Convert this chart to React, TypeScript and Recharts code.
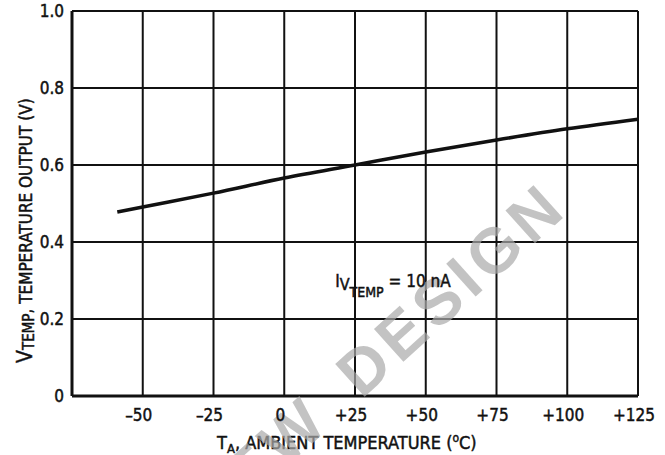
import { CartesianGrid, Line, LineChart, ReferenceDot, XAxis, YAxis } from 'recharts';

const temps = [-59, -50, -25, 0, 25, 50, 75, 100, 125];
const vtemp = [0.478, 0.491, 0.527, 0.566, 0.6, 0.634, 0.665, 0.694, 0.719];
const xTicks = [-75, -50, -25, 0, 25, 50, 75, 100, 125];
const yTicks = [0, 0.2, 0.4, 0.6, 0.8, 1.0];

const data = temps.map((t, i) => ({ t, v: vtemp[i] }));

const FONT = "'Liberation Sans Narrow', 'DejaVu Sans Condensed', 'Liberation Sans', sans-serif";
// thicken glyphs a bit, the scan prints heavier than a regular weight
const INK = { fill: '#111', stroke: '#111', strokeWidth: 0.45 };

const xLabel = (v: number) => (v === -75 ? '' : v > 0 ? `+${v}` : v < 0 ? `–${-v}` : '0');
const yLabel = (v: number) => (v === 0 ? '0' : v.toFixed(1));

function XTick(p: any) {
  return (
    <text x={p.x - 4} y={p.y + 17} textAnchor="middle" fontFamily={FONT} fontSize={17} {...INK}>
      {xLabel(p.payload.value)}
    </text>
  );
}

function YTick(p: any) {
  return (
    <text x={p.x} y={p.y + 6} textAnchor="end" fontFamily={FONT} fontSize={17} {...INK}>
      {yLabel(p.payload.value)}
    </text>
  );
}

const yTitle = () => (
  <text x={32} y={363} transform="rotate(-90, 32, 363)" fontFamily={FONT} fontSize={17} {...INK}>
    <tspan fontSize={21}>V</tspan>
    <tspan fontSize={15} dy={2}>TEMP</tspan>
    <tspan dy={-2}>, TEMPERATURE OUTPUT (V)</tspan>
  </text>
);

const xTitle = () => (
  <text x={217} y={449} fontFamily={FONT} fontSize={18} {...INK}>
    T<tspan fontSize={13} dy={4}>A</tspan>
    <tspan dy={-4}>, AMBIENT TEMPERATURE (</tspan>
    <tspan fontSize={12} dy={-7}>o</tspan>
    <tspan dy={7}>C)</tspan>
  </text>
);

const noteShape = (p: any) => (
  <text x={p.cx} y={p.cy + 5} fontFamily={FONT} fontSize={17} {...INK}>
    I<tspan fontSize={16} dy={3}>V</tspan>
    <tspan fontSize={14} dy={7}>TEMP</tspan>
    <tspan dy={-10}> = 10 nA</tspan>
  </text>
);

const stampShape = (p: any) => {
  const ang = 42;
  const rad = (ang * Math.PI) / 180;
  const back = 262;
  const nx = p.cx - Math.cos(rad) * back;
  const ny = p.cy + Math.sin(rad) * back;
  const common = {
    textAnchor: 'middle' as const,
    dominantBaseline: 'central' as const,
    fontFamily: "'Liberation Sans', sans-serif",
    fontWeight: 'bold',
    fontSize: 64,
    letterSpacing: 6,
    fill: '#aaa',
    fillOpacity: 0.7,
  };
  return (
    <g>
      <text x={p.cx} y={p.cy} transform={`rotate(-${ang}, ${p.cx}, ${p.cy})`} {...common}>
        DESIGN
      </text>
      <text x={nx} y={ny} transform={`rotate(-${ang}, ${nx}, ${ny})`} {...common}>
        NEW
      </text>
    </g>
  );
};

export default function App() {
  return (
    <div style={{ position: 'absolute', left: 0, top: 0, background: '#fff' }}>
      <LineChart width={665} height={455} data={data} margin={{ top: 11, right: 27, left: 0, bottom: 0 }}>
        <CartesianGrid stroke="#111" strokeWidth={2} horizontalValues={yTicks} verticalValues={xTicks} />
        <XAxis
          dataKey="t"
          type="number"
          domain={[-75, 125]}
          ticks={xTicks}
          interval={0}
          height={59}
          tickLine={false}
          axisLine={{ stroke: '#111', strokeWidth: 3 }}
          tick={XTick}
          label={{ content: xTitle }}
        />
        <YAxis
          type="number"
          domain={[0, 1]}
          ticks={yTicks}
          interval={0}
          width={72}
          tickLine={false}
          axisLine={{ stroke: '#111', strokeWidth: 3 }}
          tick={YTick}
          label={{ content: yTitle }}
        />
        <ReferenceDot x={59} y={0.278} r={0} shape={stampShape} />
        <Line
          dataKey="v"
          type="monotone"
          stroke="#111"
          strokeWidth={3.5}
          dot={false}
          isAnimationActive={false}
        />
        <ReferenceDot x={18} y={0.296} r={0} shape={noteShape} />
      </LineChart>
    </div>
  );
}
